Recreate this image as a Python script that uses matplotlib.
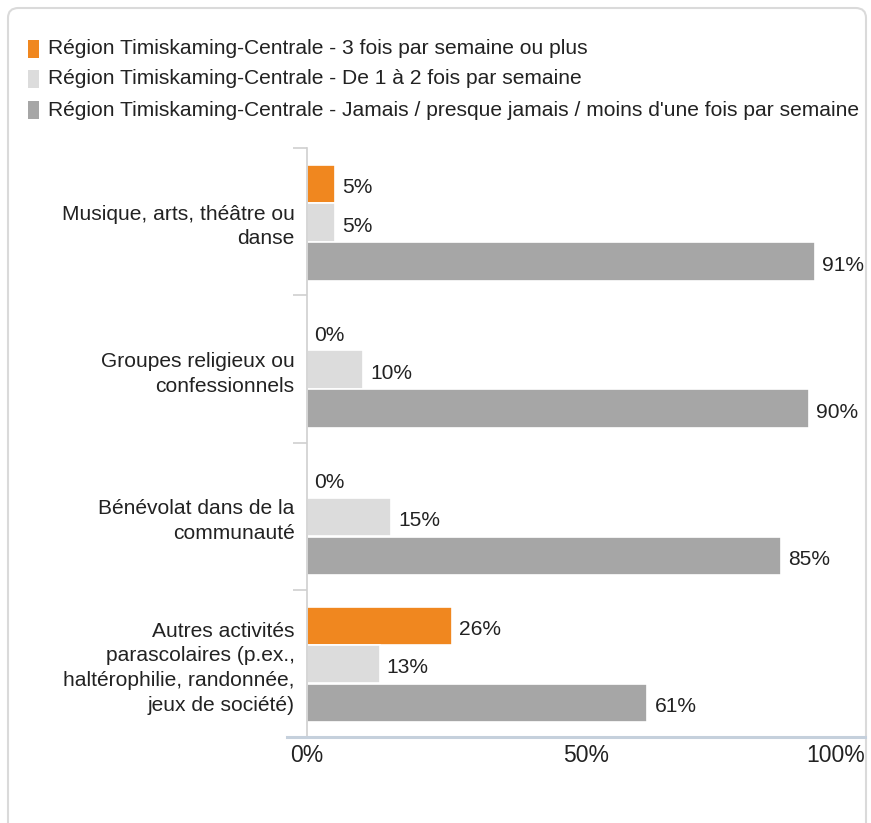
import matplotlib
matplotlib.use("Agg")
import matplotlib.pyplot as plt
from matplotlib.patches import Rectangle, FancyBboxPatch
import numpy as np

plt.rcParams['font.family'] = ['Liberation Sans', 'DejaVu Sans']

categories = ["Musique, arts, théâtre ou\ndanse",
              "Groupes religieux ou\nconfessionnels",
              "Bénévolat dans de la\ncommunauté",
              "Autres activités\nparascolaires (p.ex.,\nhaltérophilie, randonnée,\njeux de société)"]
series_names = ["Région Timiskaming-Centrale - 3 fois par semaine ou plus",
                "Région Timiskaming-Centrale - De 1 à 2 fois par semaine",
                "Région Timiskaming-Centrale - Jamais / presque jamais / moins d'une fois par semaine"]
freq_3plus = [5, 0, 0, 26]
freq_1to2 = [5, 10, 15, 13]
freq_never = [91, 90, 85, 61]
colors = ["#F0871F", "#DCDCDC", "#A6A6A6"]
xticks = [0, 50, 100]
xticklabels = ["0%", "50%", "100%"]

W, H = 871, 823
fig = plt.figure(figsize=(W/100, H/100), dpi=100)

# rounded frame
frame = FancyBboxPatch((8/W, -0.05), (866-8)/W, 1.05 - 8/H, boxstyle="round,pad=0,rounding_size=0.012",
                       transform=fig.transFigure, facecolor="white", edgecolor="#DADADA", lw=1.5,
                       zorder=-10)
fig.patches.append(frame)

ax = fig.add_axes([307/W, 1-737/H, (865-307)/W, (737-148)/H])
ax.set_facecolor("none")
ax.set_zorder(5)

fs = 15.1
y = np.arange(len(categories))
h = 0.262
offs = [-0.255, 0.005, 0.27]
for vals, off, c in zip([freq_3plus, freq_1to2, freq_never], offs, colors):
    ax.barh(y + off, vals, height=h, color=c, edgecolor="white", linewidth=1.2, zorder=2)
    for yy, v in zip(y + off, vals):
        ax.text(v + 1.3, yy + 0.025, f"{v}%", va="center", ha="left", fontsize=fs, color="#222222")

ax.set_xlim(0, 100)
ax.set_ylim(3.5, -0.5)
ax.set_yticks(y)
ax.set_yticklabels(categories, fontsize=fs, color="#222222", linespacing=1.38)
ax.tick_params(axis='y', which='major', length=0, pad=9)
ax.set_yticks([-0.5, 0.5, 1.5, 2.5, 3.5], minor=True)
ax.tick_params(axis='y', which='minor', length=10, width=1.2, color="#CFCFCF")

ax.set_xticks(xticks)
ax.set_xticklabels(xticklabels, fontsize=16.5, color="#222222")
ax.tick_params(axis='x', length=0, pad=5)
ax.get_xticklabels()[-1].set_ha("right")

for s in ["top", "right"]:
    ax.spines[s].set_visible(False)
ax.spines["left"].set_color("#CFCFCF")
ax.spines["left"].set_linewidth(1.2)
ax.spines["bottom"].set_visible(False)
ax.plot([-0.036, 1.0], [0, 0], transform=ax.transAxes, color="#C5D0DC", lw=2.2, clip_on=False, zorder=3)

# legend
rows = [49, 79, 110]
for name, c, ry in zip(series_names, colors, rows):
    fig.patches.append(Rectangle((28/W, 1-(ry+8.5)/H), 11/W, 17/H, transform=fig.transFigure,
                                 facecolor=c, edgecolor="none"))
    fig.text(48/W, 1-ry/H, name, fontsize=fs, va="center", ha="left", color="#222222")

fig.savefig("out.png", dpi=100)
